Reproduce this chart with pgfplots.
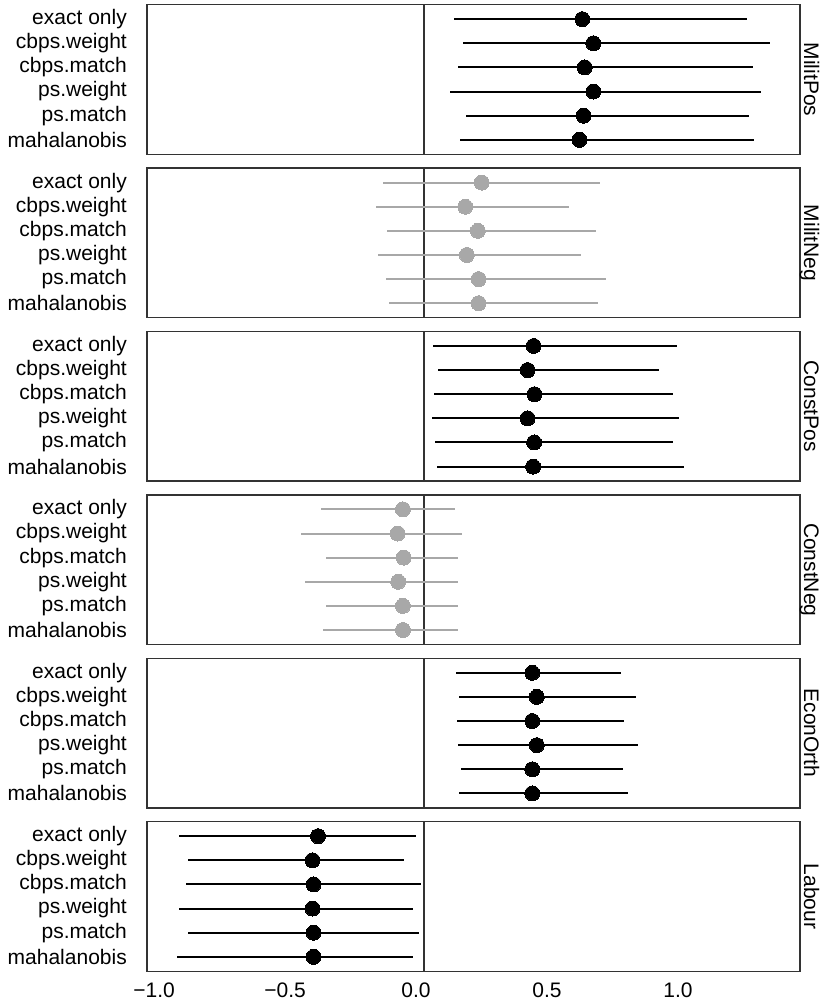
\documentclass[border=0pt]{standalone}
\usepackage{pgfplots}
\pgfplotsset{compat=1.18}
\usepackage{pgfplotstable}
\usepackage{fontspec}
\setmainfont{Liberation Sans}
\definecolor{ptgray}{RGB}{168,168,168}
\definecolor{frame}{RGB}{51,51,51}

% columns: y (6 = exact only ... 1 = mahalanobis), estimate, lower, upper
\pgfplotstableread{
y est lo hi
6 0.635 0.145 1.264
5 0.677 0.179 1.352
4 0.644 0.161 1.287
3 0.677 0.129 1.318
2 0.640 0.191 1.271
1 0.624 0.169 1.289
}\militpos
\pgfplotstableread{
y est lo hi
6 0.251 -0.127 0.702
5 0.188 -0.153 0.585
4 0.236 -0.112 0.689
3 0.194 -0.144 0.629
2 0.239 -0.115 0.727
1 0.239 -0.102 0.695
}\militneg
\pgfplotstableread{
y est lo hi
6 0.449 0.066 0.998
5 0.426 0.083 0.926
4 0.452 0.069 0.983
3 0.426 0.060 1.003
2 0.451 0.073 0.980
1 0.447 0.081 1.023
}\constpos
\pgfplotstableread{
y est lo hi
6 -0.050 -0.363 0.148
5 -0.070 -0.439 0.174
4 -0.047 -0.345 0.161
3 -0.068 -0.424 0.161
2 -0.050 -0.345 0.161
1 -0.050 -0.355 0.161
}\constneg
\pgfplotstableread{
y est lo hi
6 0.444 0.153 0.784
5 0.461 0.163 0.840
4 0.444 0.158 0.794
3 0.461 0.161 0.848
2 0.444 0.173 0.789
1 0.444 0.165 0.810
}\econorth
\pgfplotstableread{
y est lo hi
6 -0.374 -0.904 0.000
5 -0.395 -0.870 -0.044
4 -0.391 -0.877 0.020
3 -0.395 -0.904 -0.012
2 -0.391 -0.872 0.010
1 -0.391 -0.912 -0.013
}\labour

\newcommand{\lblfont}{\fontsize{21}{25}\selectfont}

\pgfplotsset{
  panel/.style={
    anchor=north west, scale only axis, width=653pt, height=149.6pt,
    xmin=-1.027, xmax=1.466, ymin=0.4, ymax=6.6,
    ytick={1,2,3,4,5,6},
    yticklabels={mahalanobis,ps.match,ps.weight,cbps.match,cbps.weight,exact only},
    xtick={-1,-0.5,0,0.5,1},
    major tick length=0pt,
    axis line style={draw=frame, line width=1.3pt},
    tick label style={font=\lblfont, text=black},
    yticklabel style={anchor=east, inner sep=0pt, xshift=-20pt},
    xticklabel style={anchor=north, inner sep=0pt, yshift=-11pt},
    clip=false,
  }
}

\newcommand{\panel}[5]{%
  \begin{axis}[panel, at={(147pt,#1)}, #5]
    \addplot[frame, line width=1.3pt, forget plot] coordinates {(0.031,0.4) (0.031,6.6)};
    \addplot[draw=none, mark=*, mark size=7.5pt,
      mark options={draw=#3, fill=#3, line width=0pt},
      error bars/.cd, x dir=both, x explicit, error mark=none,
      error bar style={line width=2pt, color=#3}]
      table[x=est, y=y,
        x error plus expr=\thisrow{hi}-\thisrow{est},
        x error minus expr=\thisrow{est}-\thisrow{lo}] {#2};
    \node[rotate=-90, anchor=base, font=\lblfont, inner sep=0pt]
      at ([xshift=4pt]rel axis cs:1,0.5) {#4};
  \end{axis}}

\begin{document}
\begin{tikzpicture}
\useasboundingbox (0,0) rectangle (824pt,1005pt);
\panel{1000.3pt}{\militpos}{black}{MilitPos}{xticklabels={}}
\panel{836.9pt}{\militneg}{ptgray}{MilitNeg}{xticklabels={}}
\panel{673.5pt}{\constpos}{black}{ConstPos}{xticklabels={}}
\panel{510.1pt}{\constneg}{ptgray}{ConstNeg}{xticklabels={}}
\panel{346.7pt}{\econorth}{black}{EconOrth}{xticklabels={}}
\panel{183.3pt}{\labour}{black}{Labour}{xticklabels={−1.0,−0.5,0.0,0.5,1.0}}
\end{tikzpicture}
\end{document}
